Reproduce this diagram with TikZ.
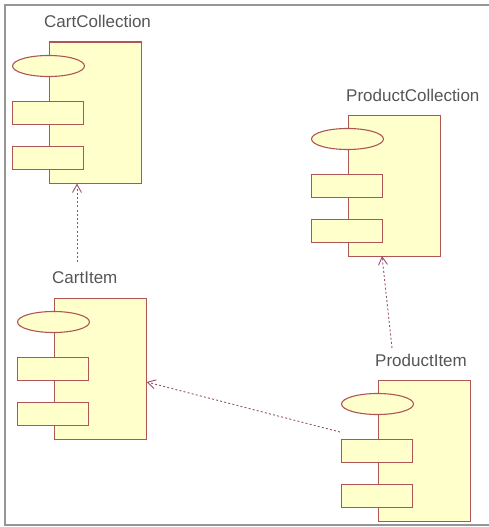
\documentclass[tikz,border=0pt]{standalone}
\usepackage{fontspec}
\setmainfont{Liberation Sans}
\usetikzlibrary{arrows.meta,shapes.geometric}
\definecolor{compfill}{RGB}{255,255,204}
\definecolor{compdraw}{RGB}{175,85,85}
\definecolor{depcol}{RGB}{150,80,115}
\definecolor{txtcol}{RGB}{85,85,85}
\definecolor{framecol}{RGB}{150,150,150}
\tikzset{
  body/.style={draw=compdraw, fill=compfill, line width=1.1pt, minimum width=92pt, minimum height=141pt, inner sep=0pt, anchor=north west},
  port/.style={draw=compdraw, fill=compfill, line width=1.1pt, minimum width=71pt, minimum height=23pt, inner sep=0pt},
  oval/.style={draw=compdraw, fill=compfill, line width=1.1pt, ellipse, minimum width=72pt, minimum height=21pt, inner sep=0pt},
  lbl/.style={text=txtcol, font=\fontsize{17}{17}\selectfont, anchor=west, inner sep=0pt},
  dep/.style={draw=depcol, line width=0.9pt, dash pattern=on 2pt off 2.2pt, -{Straight Barb[length=8pt,width=9pt,line width=0.9pt]}},
  frame/.style={draw=framecol, line width=1.6pt}
}
\newcommand{\comp}[3]{%
  \node[body] (#1) at (#2+0.5,-#3-0.5) {};
  \node[oval] (#1-e) at (#2+0.5,-#3-25) {};
  \node[port] (#1-r1) at (#2,-#3-72) {};
  \node[port] (#1-r2) at (#2,-#3-117) {};
}
\begin{document}
\begin{tikzpicture}[x=1pt,y=1pt]
\useasboundingbox (0,0) rectangle (489,-527);
\draw[frame] (489,-5) -- (5,-5) -- (5,-525) -- (489,-525);

\comp{cc}{48}{41}
\comp{pc}{347}{114}
\comp{ci}{53}{297}
\comp{pi}{377}{379}

\node[lbl] (cclab) at (44,-21) {CartCollection};
\node[lbl] (pclab) at (346,-95) {ProductCollection};
\node[lbl] (cilab) at (52,-278) {CartItem};
\node[lbl] (pilab) at (375,-360) {ProductItem};

\coordinate (t1) at (77,-262);
\coordinate (t2) at (392,-348);
\coordinate (t3) at (340,-432);

\draw[dep] (t1) -- (t1 |- cc.south);
\draw[dep] (t2) -- (382,-256);
\draw[dep] (t3) -- (ci.east |- 0,-382);
\end{tikzpicture}
\end{document}
